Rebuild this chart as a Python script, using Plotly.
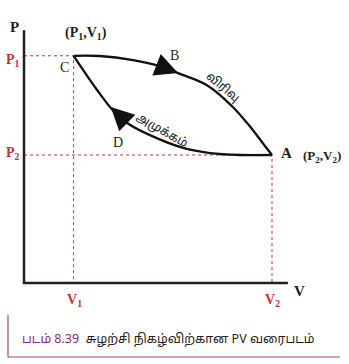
import plotly.graph_objects as go

# ---- data (arbitrary units) ----
V1, V2 = 1.0, 5.0
P1, P2 = 3.55, 2.0
V_axis_max, P_axis_max = 5.32, 3.95

# expansion C -> B -> A
exp_V = [V1, 1.53, 2.20, 2.74, 3.105, 3.69, 4.21, 4.56, 4.80, V2]
exp_P = [P1, 3.547, 3.484, 3.39, 3.28, 3.09, 2.75, 2.44, 2.20, P2]
# compression A -> D -> C
cmp_V = [V2, 4.36, 3.75, 3.21, 2.54, 2.08, 1.79, 1.47, V1]
cmp_P = [P2, 2.0, 2.03, 2.11, 2.31, 2.50, 2.70, 3.02, P1]

RED = "#c4303a"
SERIF = "Liberation Serif, Times New Roman, serif"
TAMIL = "Noto Sans Tamil, Noto Sans, sans-serif"

fig = go.Figure()

# dotted guides
fig.add_trace(go.Scatter(x=[0, V1, V1], y=[P1, P1, 0], mode="lines",
                         line=dict(color=RED, width=1, dash="dot"), hoverinfo="skip"))
fig.add_trace(go.Scatter(x=[0, V2, V2], y=[P2, P2, 0], mode="lines",
                         line=dict(color=RED, width=1, dash="dot"), hoverinfo="skip"))
# axes
fig.add_trace(go.Scatter(x=[0, 0, V_axis_max], y=[P_axis_max, 0, 0], mode="lines",
                         line=dict(color="#231f20", width=2.5), hoverinfo="skip"))
# curves
fig.add_trace(go.Scatter(x=exp_V, y=exp_P, mode="lines", line=dict(color="#111", width=2.3, shape="spline"),
                         hoverinfo="skip"))
fig.add_trace(go.Scatter(x=cmp_V, y=cmp_P, mode="lines", line=dict(color="#111", width=2.3, shape="spline"),
                         hoverinfo="skip"))

ann = []
# arrows along curves
ann.append(dict(x=exp_V[4], y=exp_P[4], ax=exp_V[3], ay=exp_P[3], xref="x", yref="y", axref="x", ayref="y",
                showarrow=True, arrowhead=2, arrowsize=2.3, arrowwidth=2, arrowcolor="#111", text="", standoff=0))
ann.append(dict(x=cmp_V[6] - 0.04, y=cmp_P[6] + 0.05, ax=cmp_V[5], ay=cmp_P[5], xref="x", yref="y", axref="x", ayref="y",
                showarrow=True, arrowhead=2, arrowsize=2.3, arrowwidth=2, arrowcolor="#111", text="", standoff=0))

def lab(x, y, text, size=13, color="#231f20", family=SERIF, angle=0, xanchor="center"):
    ann.append(dict(x=x, y=y, xref="x", yref="y", text=text, showarrow=False, textangle=angle,
                    xanchor=xanchor, yanchor="middle", font=dict(size=size, color=color, family=family)))

lab(-0.2, 4.0, "<b>P</b>", 15)
lab(5.56, -0.125, "<b>V</b>", 15)
lab(-0.22, P1 - 0.07, "<b>P<sub>1</sub></b>", 14, RED)
lab(-0.22, P2 + 0.02, "<b>P<sub>2</sub></b>", 14, RED)
lab(V1 + 0.02, -0.28, "<b>V<sub>1</sub></b>", 14, RED)
lab(V2, -0.28, "<b>V<sub>2</sub></b>", 14, RED)
lab(1.25, 3.9, "<b>(P<sub>1</sub>,V<sub>1</sub>)</b>", 14)
lab(3.04, 3.55, "B", 14)
lab(0.81, 3.36, "C", 14)
lab(1.89, 2.19, "D", 14)
lab(5.3, 2.03, "<b>A</b>", 15)
lab(6.0, 1.97, "<b>(P<sub>2</sub>,V<sub>2</sub>)</b>", 13)
lab(4.01, 3.05, "விரிவு", 12, "#111", TAMIL, 40)
lab(2.78, 2.37, "அமுக்கம்", 12, "#111", TAMIL, 30)

# caption
ann.append(dict(x=20 / 349, y=1 - 340 / 364, xref="paper", yref="paper", xanchor="left", yanchor="middle",
                showarrow=False,
                text="<span style='color:#8c2a7c'>படம் 8.39</span>  சுழற்சி நிகழ்விற்கான PV வரைபடம்",
                font=dict(size=12.5, color="#231f20", family=TAMIL)))

shapes = [
    dict(type="line", xref="paper", yref="paper", x0=8 / 349, x1=8 / 349, y0=1 - 315 / 364, y1=1 - 357 / 364,
         line=dict(color="#9c4a7a", width=1.2)),
    dict(type="line", xref="paper", yref="paper", x0=8 / 349, x1=340 / 349, y0=1 - 357 / 364, y1=1 - 357 / 364,
         line=dict(color="#9c4a7a", width=1.2)),
]

fig.update_layout(
    width=349, height=364, margin=dict(l=0, r=0, t=0, b=0),
    paper_bgcolor="white", plot_bgcolor="white", showlegend=False,
    xaxis=dict(range=[-24 / 49.6, (349 - 24) / 49.6], visible=False, fixedrange=True),
    yaxis=dict(range=[(283 - 364) / 64, 283 / 64], visible=False, fixedrange=True),
    annotations=ann, shapes=shapes,
)

fig.write_html("out.html")
